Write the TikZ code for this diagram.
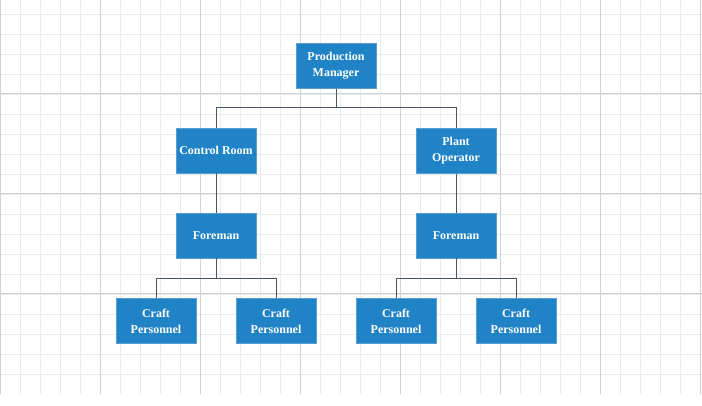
\documentclass[tikz,border=0pt]{standalone}
\usepackage{fontspec}
\setmainfont{Liberation Serif}
\usetikzlibrary{calc}
\definecolor{boxblue}{HTML}{1F83C6}
\definecolor{boxedge}{HTML}{5A9FD4}
\definecolor{linkgray}{HTML}{4A5562}
\definecolor{gridminor}{HTML}{EBEBEB}
\definecolor{gridmajor}{HTML}{D2D2D2}

\begin{document}
\begin{tikzpicture}[x=1pt, y=-1pt,
  role/.style={rectangle, fill=boxblue, draw=boxedge, line width=0.4pt,
    minimum width=80pt, minimum height=45pt, inner sep=0pt,
    text=white, align=center, font=\fontsize{12}{16}\selectfont\bfseries},
  link/.style={draw=linkgray, line width=1pt}]
\useasboundingbox (0,0) rectangle (702,406);
% background grid
\foreach \x in {0,20,...,700} \draw[gridminor, line width=0.8pt] (\x,0) -- (\x,394);
\foreach \y in {14,34,...,374} \draw[gridminor, line width=0.8pt] (0,\y) -- (702,\y);
\foreach \x in {0,100,...,700} \draw[gridmajor, line width=1pt] (\x,0) -- (\x,394);
\foreach \y in {94,194,294} \draw[gridmajor, line width=1pt] (0,\y) -- (702,\y);

% chart
\node[role] (manager) at (336,66) {Production\\Manager};
\node[role] (control) at (216,150.5) {Control Room};
\node[role] (operator) at (456,151) {Plant\\Operator};
\node[role] (foremanL) at (216,235.5) {Foreman};
\node[role] (foremanR) at (456,235.5) {Foreman};
\node[role] (craftA) at (156,321) {Craft\\Personnel};
\node[role] (craftB) at (276,321) {Craft\\Personnel};
\node[role] (craftC) at (396,321) {Craft\\Personnel};
\node[role] (craftD) at (516,321) {Craft\\Personnel};

\draw[link] (manager.south) -- ++(0,19) -| (control.north);
\draw[link] (manager.south) -- ++(0,19) -| (operator.north);
\draw[link] (control.south) -- (foremanL.north);
\draw[link] (operator.south) -- (foremanR.north);
\draw[link] (foremanL.south) -- ++(0,20) -| (craftA.north);
\draw[link] (foremanL.south) -- ++(0,20) -| (craftB.north);
\draw[link] (foremanR.south) -- ++(0,20) -| (craftC.north);
\draw[link] (foremanR.south) -- ++(0,20) -| (craftD.north);
\end{tikzpicture}
\end{document}
